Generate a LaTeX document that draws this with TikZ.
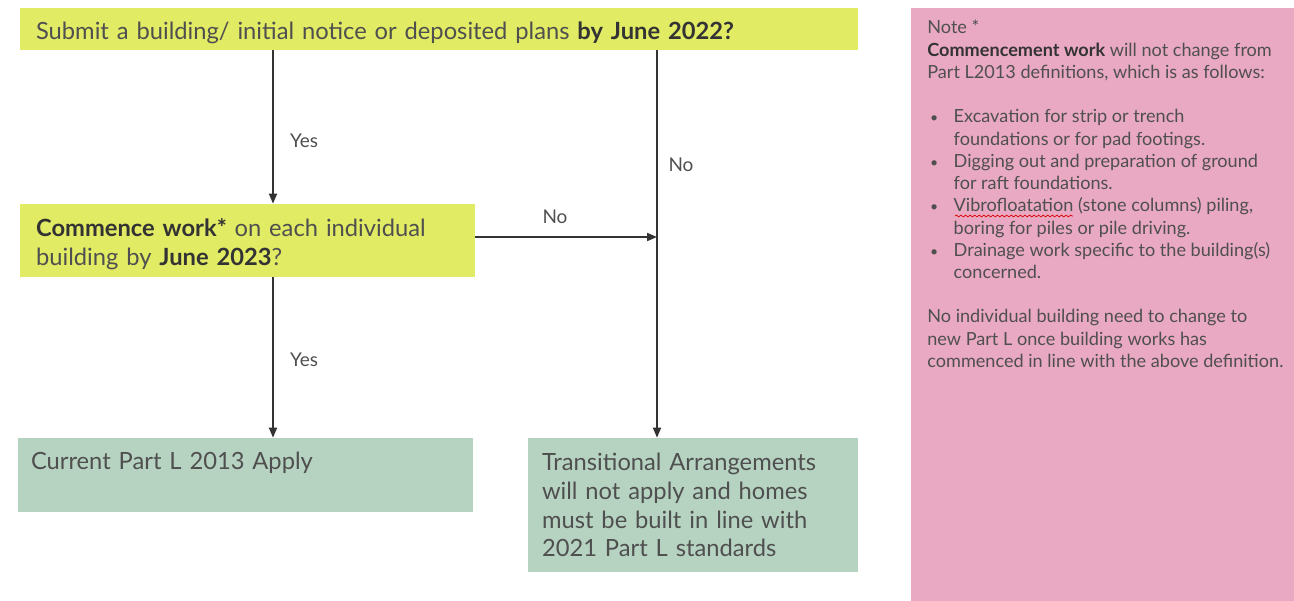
\documentclass[tikz,border=0pt]{standalone}
\usepackage{fontspec}
\setmainfont{Lato}
\usetikzlibrary{arrows.meta,decorations.pathmorphing}
\definecolor{qyellow}{HTML}{E2EB64}
\definecolor{qgreen}{HTML}{B6D3C2}
\definecolor{qpink}{HTML}{EAA9C3}
\definecolor{qtext}{HTML}{4F4F4F}
\definecolor{qbold}{HTML}{333333}
\definecolor{qline}{HTML}{333333}
\newcommand{\hl}[1]{{\bfseries\color{qbold}#1}}
\newcommand{\bul}{\makebox[15pt][l]{\hspace{1.5pt}{\footnotesize\textbullet}}}
\newcommand{\ind}{\hspace*{15pt}}
\begin{document}
\begin{tikzpicture}[x=0.02cm,y=-0.02cm,
  panel/.style={draw=none, inner sep=0pt},
  flowtext/.style={inner ysep=0pt, align=left, text=qtext,
    font=\fontsize{13.5}{16.4}\selectfont},
  notetext/.style={inner sep=0pt, align=left, text=qtext, anchor=north west,
    font=\fontsize{10.3}{12.65}\selectfont},
  lbl/.style={inner sep=1pt, text=qtext, font=\fontsize{10.8}{12}\selectfont},
  arr/.style={draw=qline, line width=0.035cm, -{Triangle[length=0.2cm,width=0.16cm]}}]
\useasboundingbox (0,0) rectangle (1294,601);

% decision boxes
\node[panel, fill=qyellow, minimum width=16.76cm, minimum height=0.84cm] (submit) at (439,29) {};
\node[flowtext, inner xsep=0.32cm, text width=16.12cm] (submittxt) at ([yshift=-4*0.02cm]submit.center)
  {Submit a building/ initial notice or deposited plans \hl{by June 2022?}};
\node[panel, fill=qyellow, minimum width=9.1cm, minimum height=1.46cm] (commence) at (247.5,240.5) {};
\node[flowtext, inner xsep=0.32cm, text width=8.46cm] (commencetxt) at ([yshift=-4*0.02cm]commence.center)
  {\hl{Commence work*} on each individual\\ building by \hl{June 2023}?};

% outcome boxes
\node[panel, fill=qgreen, minimum width=9.1cm, minimum height=1.48cm] (current) at (245.5,475) {};
\node[flowtext, inner xsep=0.26cm, text width=8.58cm] (currenttxt) at (current.center)
  {Current Part L 2013 Apply\\ \mbox{}};
\node[panel, fill=qgreen, minimum width=6.6cm, minimum height=2.68cm] (trans) at (693,505) {};
\node[flowtext, inner xsep=0.28cm, text width=6.04cm] (transtxt) at (trans.center)
  {Transitional Arrangements\\ will not apply and homes\\ must be built in line with\\ 2021 Part L standards};

% note panel
\node[panel, fill=qpink, minimum width=7.66cm, minimum height=11.86cm] (note) at (1102.5,304.5) {};
\node[notetext] (notetxt) at (927,20)
  {Note *\\
   {\bfseries\color{qbold}Commencement work} will not change from\\
   Part L2013 definitions, which is as follows:\\
   \mbox{}\\
   \bul Excavation for strip or trench\\
   \ind foundations or for pad footings.\\
   \bul Digging out and preparation of ground\\
   \ind for raft foundations.\\
   \bul Vibrofloatation (stone columns) piling,\\
   \ind boring for piles or pile driving.\\
   \bul Drainage work specific to the building(s)\\
   \ind concerned.\\
   \mbox{}\\
   No individual building need to change to\\
   new Part L once building works has\\
   commenced in line with the above definition.};
\draw[red!85!black, line width=0.4pt,
      decorate, decoration={snake, amplitude=0.5pt, segment length=2.6pt}]
  (955,216) -- (1073,216);

% connectors
\coordinate (join) at (657,237);
\draw[arr] (submit.south -| 273,0) -- (commence.north -| 273,0);
\draw[arr] (commence.south -| 273,0) -- (current.north -| 273,0);
\draw[arr] (submit.south -| join) -- (trans.north -| join);
\draw[arr] (commence.east |- join) -- (join);

% branch labels
\node[lbl] (yes1) at (304,141) {Yes};
\node[lbl] (yes2) at (304,360) {Yes};
\node[lbl] (no1) at (681,165) {No};
\node[lbl] (no2) at (555,217) {No};
\end{tikzpicture}
\end{document}
